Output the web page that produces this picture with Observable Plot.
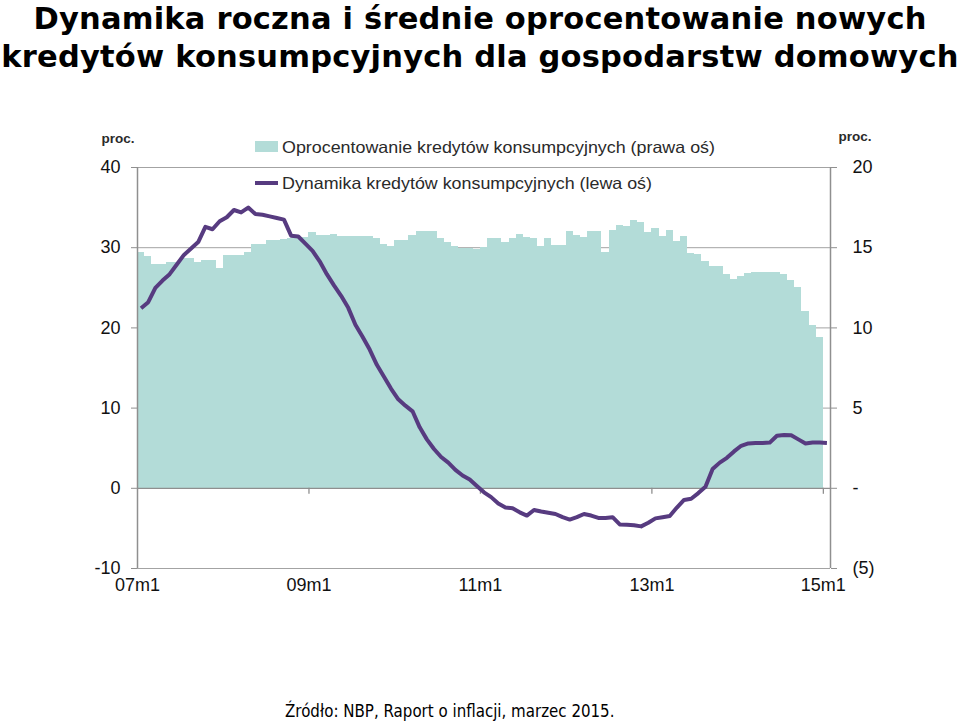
<!DOCTYPE html>
<html><head><meta charset="utf-8">
<script src="https://cdn.jsdelivr.net/npm/d3@7"></script>
<script src="https://cdn.jsdelivr.net/npm/@observablehq/plot@0.6"></script>
<style>
body{margin:0;background:#fff;width:960px;height:722px;position:relative;overflow:hidden;}
#title{position:absolute;left:0;top:0;width:960px;text-align:center;font:bold 30.5px/38px "DejaVu Sans";letter-spacing:0.2px;color:#000;white-space:nowrap;}
#chart{position:absolute;left:0;top:100px;}
#caption{position:absolute;left:285px;top:701px;font:17.5px "DejaVu Sans";color:#000;white-space:nowrap;transform:scaleX(0.86);transform-origin:0 0;}
</style></head><body>
<div id="title">Dynamika roczna i średnie oprocentowanie nowych<br>kredytów konsumpcyjnych dla gospodarstw domowych</div>
<div id="chart"></div>
<div id="caption">Źródło: NBP, Raport o inflacji, marzec 2015.</div>
<script>
// Annual growth of consumer loans (left axis, %), monthly 2007m1 .. 2015m1
const growth = [
  22.45, 23.2, 25.0, 25.9, 26.7, 27.9, 29.1, 29.9, 30.7, 32.6, 32.3, 33.3,
  33.8, 34.7, 34.4, 35.0, 34.2, 34.1, 33.9, 33.7, 33.5, 31.5, 31.4, 30.5,
  29.6, 28.3, 26.7, 25.3, 24.0, 22.5, 20.4, 18.9, 17.3, 15.4, 13.9, 12.4,
  11.1, 10.3, 9.6, 7.6, 6.1, 4.9, 3.9, 3.2, 2.3, 1.6, 1.1, 0.3,
  -0.5, -1.1, -1.9, -2.4, -2.5, -3.0, -3.4, -2.7, -2.9, -3.05, -3.2, -3.6,
  -3.9, -3.6, -3.2, -3.4, -3.7, -3.7, -3.6, -4.5, -4.55, -4.6, -4.75, -4.3,
  -3.75, -3.6, -3.45, -2.4, -1.45, -1.3, -0.6, 0.2, 2.4, 3.2, 3.8, 4.6,
  5.3, 5.6, 5.65, 5.65, 5.7, 6.55, 6.65, 6.6, 6.1, 5.6, 5.7, 5.7,
  5.65
];
// Average interest rate on new consumer loans (right axis, %), 2007m1 .. 2014m12
const rate = [
  14.67, 14.46, 13.93, 13.93, 14.1, 14.1, 14.3, 14.3, 14.05, 14.2, 14.2, 13.72,
  14.5, 14.5, 14.5, 14.7, 15.17, 15.17, 15.45, 15.45, 15.5, 15.6, 15.6, 15.65,
  15.95, 15.75, 15.75, 15.85, 15.7, 15.7, 15.7, 15.7, 15.7, 15.55, 15.2, 15.05,
  15.45, 15.45, 15.75, 16.0, 16.0, 16.0, 15.6, 15.35, 15.05, 14.95, 14.95, 14.9,
  15.0, 15.55, 15.55, 15.35, 15.55, 15.85, 15.65, 15.55, 15.1, 15.55, 15.15, 15.15,
  16.0, 15.75, 15.65, 16.0, 16.0, 14.7, 16.1, 16.4, 16.3, 16.7, 16.6, 15.95,
  16.2, 15.7, 16.1, 15.4, 15.7, 14.65, 14.55, 14.15, 13.85, 13.85, 13.35, 13.0,
  13.2, 13.4, 13.45, 13.45, 13.45, 13.45, 13.3, 12.95, 12.5, 11.0, 10.15, 9.4
];
const xTickMonth = [0, 24, 48, 72, 96];
const xTickLabels = ["07m1", "09m1", "11m1", "13m1", "15m1"];
const leftTicks = [-10, 0, 10, 20, 30, 40];
const rightTickLabels = ["(5)", "-", "5", "10", "15", "20"];
const legendLabels = ["Oprocentowanie kredytów konsumpcyjnych (prawa oś)", "Dynamika kredytów konsumpcyjnych (lewa oś)"];
const unitLabel = "proc.";

const RATIO = 2; // left-axis units per right-axis unit
const barColor = "#b3dcd8";
const lineColor = "#573b80";
const axisColor = "#8f8f8f";
const FONT = "'Liberation Sans', Arial, sans-serif";

const bars = rate.map((r, i) => ({i, r}));
const pts = growth.map((g, i) => ({i, g}));

const plot = Plot.plot({
  width: 960,
  height: 520,
  marginTop: 67,
  marginBottom: 52,
  marginLeft: 137,
  marginRight: 130,
  style: {fontFamily: FONT, color: "#111", background: "transparent"},
  x: {type: "linear", domain: [0, 97]},
  y: {domain: [-10, 40]},
  marks: [
    Plot.ruleY(leftTicks.filter(d => d !== 0), {stroke: "#a3a3a3", strokeWidth: 1}),
    Plot.rect(bars, {x1: d => d.i, x2: d => d.i + 1, y1: 0, y2: d => d.r * RATIO, fill: barColor, shapeRendering: "crispEdges"}),
    Plot.ruleY([0], {stroke: axisColor, strokeWidth: 1.3}),
    Plot.ruleX(xTickMonth.slice(1), {x: d => d, y1: 0, y2: 0, insetBottom: -6, stroke: axisColor, strokeWidth: 1.3}),
    Plot.ruleX([0], {stroke: axisColor, strokeWidth: 1.5}),
    Plot.ruleX([97], {stroke: axisColor, strokeWidth: 1.5}),
    Plot.axisY({anchor: "left", ticks: leftTicks, tickSize: 6, tickPadding: 11, fontSize: 18, stroke: axisColor, label: null, tickFormat: d => String(d)}),
    Plot.axisY({anchor: "right", ticks: leftTicks, tickSize: 6, tickPadding: 16, fontSize: 18, stroke: axisColor, label: null,
      tickFormat: d => rightTickLabels[leftTicks.indexOf(d)]}),
    Plot.axisX({anchor: "bottom", ticks: xTickMonth, tickSize: 0, tickPadding: 10, fontSize: 18, label: null,
      tickFormat: d => xTickLabels[xTickMonth.indexOf(d)]}),
    Plot.line(pts, {x: d => d.i + 0.5, y: "g", stroke: lineColor, strokeWidth: 4, strokeLinejoin: "round", strokeLinecap: "butt"})
  ]
});

const svg = d3.select(plot);
// legend
const lg = svg.append("g").attr("font-family", FONT).attr("font-size", 16.5).attr("fill", "#2a2a2a").attr("text-anchor", "start");
lg.append("rect").attr("x", 255).attr("y", 41).attr("width", 23).attr("height", 11).attr("fill", barColor);
lg.append("text").attr("x", 282).attr("y", 47).attr("dy", "0.35em").attr("text-anchor", "start")
  .attr("textLength", 433).attr("lengthAdjust", "spacingAndGlyphs").text(legendLabels[0]);
lg.append("line").attr("x1", 255).attr("x2", 278).attr("y1", 83).attr("y2", 83).attr("stroke", lineColor).attr("stroke-width", 4);
lg.append("text").attr("x", 282).attr("y", 83).attr("dy", "0.35em").attr("text-anchor", "start")
  .attr("textLength", 370).attr("lengthAdjust", "spacingAndGlyphs").text(legendLabels[1]);
// unit labels
const ul = svg.append("g").attr("font-family", FONT).attr("font-size", 13.5).attr("font-weight", "bold").attr("fill", "#2a2a2a");
ul.append("text").attr("x", 118).attr("y", 43).attr("text-anchor", "middle").text(unitLabel);
ul.append("text").attr("x", 855).attr("y", 41).attr("text-anchor", "middle").text(unitLabel);

document.getElementById("chart").appendChild(plot);
</script>
</body></html>
